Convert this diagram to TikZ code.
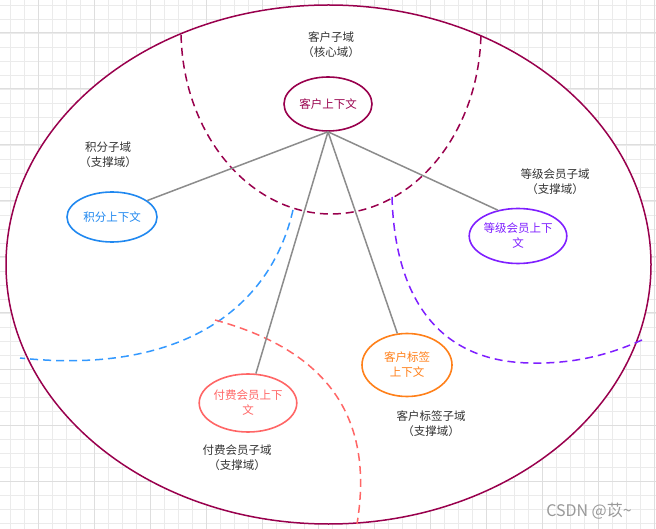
\documentclass[tikz,border=0pt]{standalone}
\usepackage{fontspec}
\usetikzlibrary{shapes.geometric}
\newfontfamily\cjk{Noto Sans CJK SC}
\definecolor{crim}{HTML}{99004D}
\definecolor{bluec}{HTML}{2088F0}
\definecolor{blued}{HTML}{3399FF}
\definecolor{purp}{HTML}{7F1FFF}
\definecolor{redc}{HTML}{FF6666}
\definecolor{orng}{HTML}{FF8019}
\definecolor{conn}{HTML}{8C8C8C}
\definecolor{labc}{HTML}{333333}
\definecolor{gridc}{HTML}{EBEBEB}
\definecolor{gridm}{HTML}{DEDEDE}
\tikzset{
  ctx/.style={ellipse, draw, line width=1.6pt, fill=white, inner sep=0pt, align=center,
    font=\cjk\fontsize{11.5}{15}\selectfont},
  lab/.style={align=center, text=labc, inner sep=0pt, font=\cjk\fontsize{11.5}{15}\selectfont},
  link/.style={draw=conn, line width=1.5pt},
  bound/.style={line width=1.5pt, dash pattern=on 8pt off 5pt},
  gminor/.style={draw=gridc, line width=0.8pt},
  gmajor/.style={draw=gridm, line width=1pt},
}
\begin{document}
\begin{tikzpicture}[x=1pt, y=-1pt]
\useasboundingbox (0,0) rectangle (656,529);
\fill[white] (0,0) rectangle (656,529);
% grid
\foreach \k in {0,...,46} \draw[gminor] ({10+14*\k},0) -- ({10+14*\k},529);
\foreach \k in {0,...,37} \draw[gminor] (0,{5+14*\k}) -- (656,{5+14*\k});
\foreach \k in {0,...,11} \draw[gmajor] ({38+56*\k},0) -- ({38+56*\k},529);
\foreach \k in {0,...,8} \draw[gmajor] (0,{33+56*\k}) -- (656,{33+56*\k});
% outer domain
\draw[crim, line width=1.5pt, fill=white] (328.5,264.5) ellipse [x radius=322.5, y radius=259.5];
% subdomain boundaries
\draw[bound, crim] (181.05,34.8) arc[start angle=178.5, end angle=1.5, x radius=150, y radius=184];
\draw[bound, blued] (293,210) .. controls (270,310) and (180,375) .. (20,358);
\draw[bound, redc] (215,320) .. controls (325,350) and (375,415) .. (357,524);
\draw[bound, purp] (392,197) .. controls (395,300) and (440,362) .. (531,363)
  .. controls (580,364) and (615,352) .. (642,340);
% contexts
\node[ctx, draw=crim, text=crim, minimum width=88pt, minimum height=54pt] (core) at (328,104) {客户上下文};
\node[ctx, draw=bluec, text=bluec, minimum width=90pt, minimum height=50pt] (jf) at (112,217) {积分上下文};
\node[ctx, draw=purp, text=purp, minimum width=88pt, minimum height=55pt] (dj) at (518,236) {等级会员上下\\文};
\node[ctx, draw=redc, text=redc, minimum width=90pt, minimum height=58pt] (ff) at (248,403) {付费会员上下\\文};
\node[ctx, draw=orng, text=orng, minimum width=90pt, minimum height=63pt] (bq) at (407,365) {客户标签\\上下文};
% connectors
\draw[link] (core.south) -- (jf.25);
\draw[link] (core.south) -- (dj.128);
\draw[link] (core.south) -- (ff.75);
\draw[link] (core.south) -- (bq.107);
% labels
\node[lab] (lcore) at (331,45) {客户子域\\（核心域）};
\node[lab] (ljf) at (108,155) {积分子域\\（支撑域）};
\node[lab] (ldj) at (555,182) {等级会员子域\\（支撑域）};
\node[lab] (lff) at (237,458) {付费会员子域\\（支撑域）};
\node[lab] (lbq) at (431,424) {客户标签子域\\（支撑域）};
\node[text=black!40, inner sep=0pt, font=\cjk\fontsize{16}{18}\selectfont] (wm) at (589,511) {CSDN @苡\textasciitilde};
\end{tikzpicture}
\end{document}
